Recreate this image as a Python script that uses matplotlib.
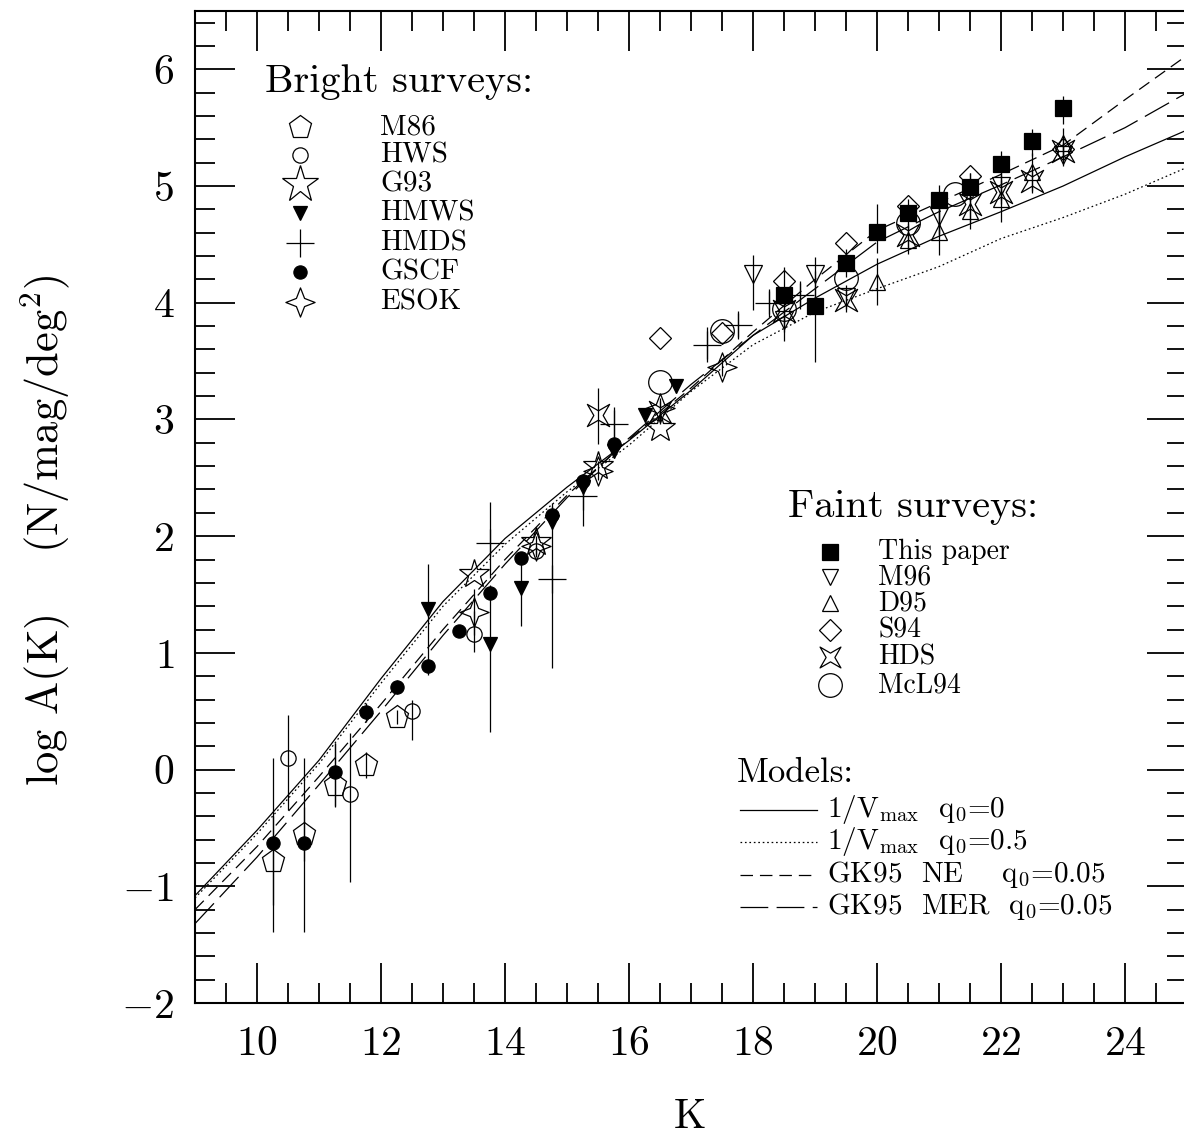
import matplotlib
matplotlib.use("Agg")
from matplotlib import pyplot as plt
from matplotlib.path import Path
from matplotlib.ticker import MultipleLocator
import numpy as np

plt.rcParams['font.family'] = ['cmr10', 'DejaVu Serif']
plt.rcParams['mathtext.fontset'] = 'cm'
plt.rcParams['axes.formatter.use_mathtext'] = True
plt.rcParams['lines.scale_dashes'] = False

# ---- models (log A(K) vs K) ----
model_k = [9, 10, 11, 12, 13, 14, 15, 16, 17, 18, 19, 20, 21, 22, 23, 24, 25]
vmax_q0 = [-1.08, -0.52, 0.08, 0.78, 1.44, 1.98, 2.42, 2.82, 3.25, 3.72,
           4.04, 4.33, 4.57, 4.78, 5.00, 5.25, 5.48]
vmax_q05 = [-1.10, -0.55, 0.05, 0.74, 1.40, 1.93, 2.38, 2.78, 3.24, 3.64,
            3.92, 4.12, 4.31, 4.55, 4.73, 4.93, 5.16]
gk95_ne = [-1.20, -0.66, -0.06, 0.56, 1.20, 1.80, 2.35, 2.83, 3.27, 3.75,
           4.20, 4.62, 4.86, 5.10, 5.35, 5.74, 6.12]
gk95_mer = [-1.32, -0.75, -0.13, 0.50, 1.15, 1.76, 2.33, 2.84, 3.30, 3.72,
            4.12, 4.52, 4.78, 5.01, 5.25, 5.50, 5.80]

# ---- bright surveys ----
m86_k = [10.25, 10.75, 11.25, 11.75, 12.25]
m86_y = [-0.78, -0.55, -0.13, 0.04, 0.45]
m86_lo = [0.38, 0.23, 0.18, 0.11, 0.06]
m86_hi = [0.38, 0.23, 0.36, 0.11, 0.06]

hws_k = [10.5, 11.5, 12.5, 13.5, 14.5]
hws_y = [0.10, -0.21, 0.50, 1.16, 1.87]
hws_lo = [0.45, 0.75, 0.25, 0.15, 0.05]
hws_hi = [0.37, 0.52, 0.10, 0.20, 0.05]

g93_k = [13.5, 14.5, 15.5, 16.5]
g93_y = [1.68, 1.95, 2.60, 2.93]

hmws_k = [12.75, 13.75, 14.25, 14.75, 15.25, 15.75, 16.25, 16.75]
hmws_y = [1.38, 1.08, 1.56, 2.12, 2.42, 2.73, 3.04, 3.29]
hmws_lo = [0.57, 0.76, 0.33, 0.06, 0.06, 0.06, 0.06, 0.06]
hmws_hi = [0.38, 0.50, 0.24, 0.06, 0.06, 0.06, 0.06, 0.06]

hmds_k = [13.75, 14.75, 15.25, 15.75, 17.25, 17.75, 18.25, 18.75]
hmds_y = [1.94, 1.63, 2.34, 2.96, 3.64, 3.81, 4.00, 4.07]
hmds_lo = [0.30, 0.76, 0.25, 0.15, 0.15, 0.10, 0.10, 0.10]
hmds_hi = [0.35, 0.65, 0.10, 0.15, 0.15, 0.10, 0.10, 0.10]

gscf_k = [10.25, 10.75, 11.25, 11.75, 12.25, 12.75, 13.25, 13.75, 14.25,
          14.75, 15.25, 15.75]
gscf_y = [-0.63, -0.63, -0.02, 0.49, 0.71, 0.89, 1.19, 1.51, 1.81, 2.18,
          2.47, 2.79]
gscf_lo = [0.76, 0.76, 0.30, 0.08, 0.06, 0.06, 0.05, 0.05, 0.05, 0.08, 0.05, 0.05]
gscf_hi = [0.73, 0.73, 0.25, 0.08, 0.06, 0.06, 0.05, 0.05, 0.05, 0.08, 0.05, 0.05]

esok_k = [13.5, 14.5, 15.5, 16.5, 17.5]
esok_y = [1.35, 1.92, 2.56, 3.10, 3.45]
esok_err = [0.20, 0.08, 0.08, 0.08, 0.08]

# ---- faint surveys ----
this_k = [18.5, 19.0, 19.5, 20.0, 20.5, 21.0, 21.5, 22.0, 22.5, 23.0]
this_y = [4.07, 3.97, 4.34, 4.61, 4.77, 4.88, 4.99, 5.19, 5.39, 5.67]
this_lo = [0.40, 0.48, 0.12, 0.18, 0.12, 0.30, 0.12, 0.11, 0.13, 0.14]
this_hi = [0.24, 0.30, 0.12, 0.24, 0.12, 0.13, 0.12, 0.11, 0.10, 0.10]

m96_k = [18.0, 18.5, 19.0, 19.5, 21.0, 22.0, 23.0]
m96_y = [4.25, 3.85, 4.25, 4.05, 4.74, 5.00, 5.27]
m96_lo = [0.31, 0.10, 0.30, 0.10, 0.15, 0.12, 0.10]
m96_hi = [0.16, 0.10, 0.14, 0.10, 0.15, 0.12, 0.10]

d95_k = [20.0, 20.5, 21.0, 21.5, 22.0, 22.5, 23.0]
d95_y = [4.18, 4.54, 4.61, 4.79, 4.89, 5.12, 5.37]
d95_err = [0.20, 0.12, 0.20, 0.16, 0.20, 0.16, 0.13]

s94_k = [16.5, 17.5, 18.5, 19.5, 20.5, 21.5, 23.0]
s94_y = [3.70, 3.74, 4.19, 4.51, 4.83, 5.09, 5.32]

hds_k = [15.5, 16.5, 18.5, 19.5, 20.5, 21.5, 22.0, 22.5, 23.0]
hds_y = [3.04, 3.06, 3.93, 4.02, 4.58, 4.85, 4.95, 5.04, 5.30]
hds_lo = [0.25, 0.10, 0.10, 0.10, 0.10, 0.16, 0.10, 0.10, 0.10]
hds_hi = [0.23, 0.10, 0.10, 0.10, 0.10, 0.26, 0.10, 0.10, 0.10]

mcl_k = [16.5, 17.5, 18.5, 19.5, 20.5, 21.25]
mcl_y = [3.32, 3.76, 3.95, 4.21, 4.68, 4.93]

xticks = [10, 12, 14, 16, 18, 20, 22, 24]
yticks = [-2, -1, 0, 1, 2, 3, 4, 5, 6]


# 自訂符號: 四角星 (ESOK) 和 凹邊方形 (HDS)
def star4(r_in):
    v = [(0, 1), (r_in, r_in), (1, 0), (r_in, -r_in), (0, -1),
         (-r_in, -r_in), (-1, 0), (-r_in, r_in), (0, 1)]
    return Path(v, closed=True)


def pinched(r_in):
    v = [(1, 1), (0, r_in), (-1, 1), (-r_in, 0), (-1, -1), (0, -r_in),
         (1, -1), (r_in, 0), (1, 1)]
    return Path(v, closed=True)


esok_m = star4(0.28)
hds_m = pinched(0.42)

lw = 0.9
fig = plt.figure(figsize=(11.84, 11.38), dpi=100)
ax = fig.add_axes([195 / 1184, 135 / 1138, 992 / 1184, 992 / 1138])

# models
ax.plot(model_k, vmax_q0, color='black', lw=lw, ls='-')
ax.plot(model_k, vmax_q05, color='black', lw=lw, ls=(0, (1.2, 2.0)))
ax.plot(model_k, gk95_ne, color='black', lw=lw, ls=(0, (9, 5)))
ax.plot(model_k, gk95_mer, color='black', lw=lw, ls=(0, (20, 6)))

eb = dict(fmt='none', ecolor='black', elinewidth=lw, capsize=0)
op = dict(ls='none', mfc='none', mec='black', mew=lw)
fl = dict(ls='none', mfc='black', mec='black', mew=lw)

# error bars
ax.errorbar(m86_k, m86_y, yerr=[m86_lo, m86_hi], **eb)
ax.errorbar(hws_k, hws_y, yerr=[hws_lo, hws_hi], **eb)
ax.errorbar(hmws_k, hmws_y, yerr=[hmws_lo, hmws_hi], **eb)
ax.errorbar(hmds_k, hmds_y, yerr=[hmds_lo, hmds_hi], **eb)
ax.errorbar(gscf_k, gscf_y, yerr=[gscf_lo, gscf_hi], **eb)
ax.errorbar(esok_k, esok_y, yerr=esok_err, **eb)
ax.errorbar(this_k, this_y, yerr=[this_lo, this_hi], **eb)
ax.errorbar(m96_k, m96_y, yerr=[m96_lo, m96_hi], **eb)
ax.errorbar(d95_k, d95_y, yerr=d95_err, **eb)
ax.errorbar(hds_k, hds_y, yerr=[hds_lo, hds_hi], **eb)

# bright surveys
ax.plot(m86_k, m86_y, marker='p', ms=17, **op)
ax.plot(hws_k, hws_y, marker='o', ms=11, **op)
ax.plot(g93_k, g93_y, marker='*', ms=22, **op)
ax.plot(hmws_k, hmws_y, marker='v', ms=10, **fl)
ax.plot(hmds_k, hmds_y, marker='+', ms=20, ls='none', mec='black', mew=lw)
ax.plot(gscf_k, gscf_y, marker='o', ms=9.5, **fl)
ax.plot(esok_k, esok_y, marker=esok_m, ms=21, **op)

# faint surveys
ax.plot(this_k, this_y, marker='s', ms=11, **fl)
ax.plot(m96_k, m96_y, marker='v', ms=13, **op)
ax.plot(d95_k, d95_y, marker='^', ms=12, **op)
ax.plot(s94_k, s94_y, marker='D', ms=11, **op)
ax.plot(hds_k, hds_y, marker=hds_m, ms=16, **op)
ax.plot(mcl_k, mcl_y, marker='o', ms=17, **op)

ax.set_xlim(9, 25)
ax.set_ylim(-2, 6.5)

# 軸與刻度
ax.xaxis.set_major_locator(MultipleLocator(2))
ax.xaxis.set_minor_locator(MultipleLocator(0.5))
ax.yaxis.set_major_locator(MultipleLocator(1))
ax.yaxis.set_minor_locator(MultipleLocator(0.2))
ax.set_xticks(xticks)
ax.set_xticklabels(['$%d$' % t for t in xticks])
ax.set_yticks(yticks)
ax.set_yticklabels(['$%d$' % t for t in yticks])
ax.tick_params(which='both', direction='in', top=True, right=True,
               width=1.3, labelsize=30)
ax.tick_params(which='major', length=29)
ax.tick_params(which='minor', length=14.5)
ax.tick_params(axis='x', which='major', pad=16)
ax.tick_params(axis='y', which='major', pad=15)
for s in ax.spines.values():
    s.set_linewidth(1.5)

fig.text(690 / 1184, 1 - 1117 / 1138, 'K', fontsize=30, ha='center', va='center')
fig.text(45 / 1184, 1 - 530 / 1138, r'log A(K)    (N/mag/deg$^2$)', fontsize=32,
         rotation=90, ha='center', va='center')

# ---- legends ----
T = ax.transAxes


def fx(px):
    return (px - 195) / 992


def fy(py):
    return (1003 - py) / 992


ax.text(fx(265), fy(82), 'Bright surveys:', transform=T, fontsize=29,
        va='center', ha='left')
bright_keys = [
    ('M86', dict(marker='p', ms=17, **op)),
    ('HWS', dict(marker='o', ms=11, **op)),
    ('G93', dict(marker='*', ms=28, **op)),
    ('HMWS', dict(marker='v', ms=10, **fl)),
    ('HMDS', dict(marker='+', ms=20, ls='none', mec='black', mew=lw)),
    ('GSCF', dict(marker='o', ms=9.5, **fl)),
    ('ESOK', dict(marker=esok_m, ms=21, **op)),
]
bright_rows = [127, 155, 184, 213, 243, 272, 302]
for (name, st), py in zip(bright_keys, bright_rows):
    ax.plot([fx(300)], [fy(py)], transform=T, clip_on=False, **st)
    ax.text(fx(380), fy(py), name, transform=T, fontsize=21, va='center')

ax.text(fx(788), fy(507), 'Faint surveys:', transform=T, fontsize=29,
        va='center', ha='left')
faint_keys = [
    ('This paper', dict(marker='s', ms=11, **fl)),
    ('M96', dict(marker='v', ms=12, **op)),
    ('D95', dict(marker='^', ms=11, **op)),
    ('S94', dict(marker='D', ms=11, **op)),
    ('HDS', dict(marker=hds_m, ms=15, **op)),
    ('McL94', dict(marker='o', ms=17, **op)),
]
faint_rows = [552, 577, 603, 630, 657, 685]
for (name, st), py in zip(faint_keys, faint_rows):
    ax.plot([fx(830)], [fy(py)], transform=T, clip_on=False, **st)
    ax.text(fx(878), fy(py), name, transform=T, fontsize=20, va='center')

ax.text(fx(737), fy(773), 'Models:', transform=T, fontsize=25,
        va='center', ha='left')
model_keys = [
    (r'1/V$_{\rm max}$  q$_0$=0', '-'),
    (r'1/V$_{\rm max}$  q$_0$=0.5', (0, (1.2, 2.0))),
    (r'GK95  NE    q$_0$=0.05', (0, (9, 5))),
    (r'GK95  MER  q$_0$=0.05', (0, (20, 6))),
]
model_rows = [810, 842, 875, 907]
for (name, st), py in zip(model_keys, model_rows):
    ax.plot([fx(740), fx(817)], [fy(py), fy(py)], transform=T, color='black',
            lw=lw, ls=st, clip_on=False)
    ax.text(fx(827), fy(py), name, transform=T, fontsize=21, va='center')

fig.savefig('out.png', dpi=100)
